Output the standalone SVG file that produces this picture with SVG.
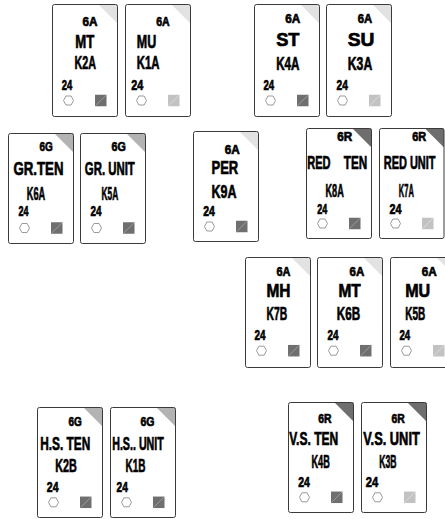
<svg xmlns="http://www.w3.org/2000/svg" xmlns:xlink="http://www.w3.org/1999/xlink" width="445" height="519" viewBox="0 0 445 519">
<style>
.bg{fill:#fff;stroke:none}
.bd{fill:none;stroke:#3a3a3a;stroke-width:1}
.ta{fill:#e2e2e2}
.tg{fill:#b3b3b3}
.tr{fill:#6e6e6e}
text{font-family:"Liberation Sans Narrow","Liberation Sans",Arial,sans-serif;font-weight:bold;fill:#000;stroke:#000;stroke-width:0.65px}
.s{font-size:12.5px}
.m{font-size:18px}
.n{font-size:14px}
</style>
<defs>
<polygon id="hex" points="-5,0 -2.6,-4.5 2.6,-4.5 5,0 2.6,4.5 -2.6,4.5" fill="#fff" stroke="#9a9a9a" stroke-width="1"/>
<g id="sqd"><rect x="0" y="0" width="11.5" height="11.5" fill="#6f6f6f"/><line x1="0.5" y1="11" x2="11" y2="0.5" stroke="#a5a5a5" stroke-width="0.8"/></g>
<g id="sql"><rect x="0" y="0" width="11.5" height="11.5" fill="#c2c2c2"/><line x1="0.5" y1="11" x2="11" y2="0.5" stroke="#e2e2e2" stroke-width="0.8"/></g>
</defs>
<g id="connectors"/>

<g id="card-K2A" transform="translate(52.5,4.5)">
<rect class="bg" width="65" height="112"/><polygon class="ta" points="46,0 65,0 65,19"/><rect class="bd" width="65" height="112" rx="2"/>
<text class="s" x="30" y="21" textLength="15" lengthAdjust="spacingAndGlyphs">6A</text>
<text class="m" x="22.7" y="43.5" textLength="19" lengthAdjust="spacingAndGlyphs">MT</text>
<text class="m" x="22" y="64.5" textLength="21.5" lengthAdjust="spacingAndGlyphs">K2A</text>
<text class="n" x="9.3" y="85" textLength="10.5" lengthAdjust="spacingAndGlyphs">24</text>
<use xlink:href="#hex" x="16" y="96"/><use xlink:href="#sqd" x="42.5" y="90.25"/>
</g>

<g id="card-K1A" transform="translate(125.5,4.5)">
<rect class="bg" width="65" height="112"/><polygon class="ta" points="46,0 65,0 65,19"/><rect class="bd" width="65" height="112" rx="2"/>
<text class="s" x="30.7" y="21" textLength="13.5" lengthAdjust="spacingAndGlyphs">6A</text>
<text class="m" x="11.3" y="43.5" textLength="19.4" lengthAdjust="spacingAndGlyphs">MU</text>
<text class="m" x="11.3" y="64.5" textLength="22.7" lengthAdjust="spacingAndGlyphs">K1A</text>
<text class="n" x="5.7" y="85" textLength="12" lengthAdjust="spacingAndGlyphs">24</text>
<use xlink:href="#hex" x="16" y="96"/><use xlink:href="#sql" x="42.5" y="90.25"/>
</g>

<g id="card-K4A" transform="translate(254.5,4.5)">
<rect class="bg" width="65" height="112"/><polygon class="ta" points="46,0 65,0 65,19"/><rect class="bd" width="65" height="112" rx="2"/>
<text class="s" x="30.7" y="18.5" textLength="15" lengthAdjust="spacingAndGlyphs">6A</text>
<text class="m" x="21.7" y="41.5" textLength="23.3" lengthAdjust="spacingAndGlyphs">ST</text>
<text class="m" x="21.7" y="65" textLength="23.3" lengthAdjust="spacingAndGlyphs">K4A</text>
<text class="n" x="9" y="85" textLength="10.7" lengthAdjust="spacingAndGlyphs">24</text>
<use xlink:href="#hex" x="16" y="96"/><use xlink:href="#sqd" x="42.5" y="90.25"/>
</g>

<g id="card-K3A" transform="translate(326.5,4.5)">
<rect class="bg" width="65" height="112"/><polygon class="ta" points="46,0 65,0 65,19"/><rect class="bd" width="65" height="112" rx="2"/>
<text class="s" x="31.3" y="18.5" textLength="14.4" lengthAdjust="spacingAndGlyphs">6A</text>
<text class="m" x="21.3" y="41.5" textLength="26.7" lengthAdjust="spacingAndGlyphs">SU</text>
<text class="m" x="21.3" y="65" textLength="24.4" lengthAdjust="spacingAndGlyphs">K3A</text>
<text class="n" x="10" y="85" textLength="11.3" lengthAdjust="spacingAndGlyphs">24</text>
<use xlink:href="#hex" x="16" y="96"/><use xlink:href="#sql" x="42.5" y="90.25"/>
</g>

<g id="card-K6A" transform="translate(8.5,133.5)">
<rect class="bg" width="65" height="110"/><polygon class="tg" points="46,0 65,0 65,19"/><rect class="bd" width="65" height="110" rx="2"/>
<text class="s" x="31" y="17.7" textLength="13.3" lengthAdjust="spacingAndGlyphs">6G</text>
<text class="m" x="5" y="41.7" textLength="50" lengthAdjust="spacingAndGlyphs">GR.TEN</text>
<text class="m" x="18.3" y="66.7" textLength="18.4" lengthAdjust="spacingAndGlyphs">K6A</text>
<text class="n" x="10" y="82.4" textLength="10" lengthAdjust="spacingAndGlyphs">24</text>
<use xlink:href="#hex" x="16" y="94.5"/><use xlink:href="#sqd" x="42.5" y="88.75"/>
</g>

<g id="card-K5A" transform="translate(80.5,133.5)">
<rect class="bg" width="65" height="110"/><polygon class="tg" points="46,0 65,0 65,19"/><rect class="bd" width="65" height="110" rx="2"/>
<text class="s" x="31" y="17.7" textLength="14.3" lengthAdjust="spacingAndGlyphs">6G</text>
<text class="m" x="4.3" y="41.7" textLength="50" lengthAdjust="spacingAndGlyphs">GR. UNIT</text>
<text class="m" x="21" y="66.7" textLength="16.7" lengthAdjust="spacingAndGlyphs">K5A</text>
<text class="n" x="10" y="82.4" textLength="11" lengthAdjust="spacingAndGlyphs">24</text>
<use xlink:href="#hex" x="16" y="94.5"/><use xlink:href="#sqd" x="42.5" y="88.75"/>
</g>

<g id="card-K9A" transform="translate(193.5,131.5)">
<rect class="bg" width="65" height="110"/><polygon class="ta" points="46,0 65,0 65,19"/><rect class="bd" width="65" height="110" rx="2"/>
<text class="s" x="31.3" y="22.7" textLength="15" lengthAdjust="spacingAndGlyphs">6A</text>
<text class="m" x="18" y="42.3" textLength="26.7" lengthAdjust="spacingAndGlyphs">PER</text>
<text class="m" x="18" y="66" textLength="25" lengthAdjust="spacingAndGlyphs">K9A</text>
<text class="n" x="9.7" y="84" textLength="11.6" lengthAdjust="spacingAndGlyphs">24</text>
<use xlink:href="#hex" x="16" y="95"/><use xlink:href="#sqd" x="42.5" y="89.25"/>
</g>

<g id="card-K8A" transform="translate(306.5,128.5)">
<rect class="bg" width="65" height="110"/><polygon class="tr" points="46,0 65,0 65,19"/><rect class="bd" width="65" height="110" rx="2"/>
<text class="s" x="30.7" y="12.3" textLength="15" lengthAdjust="spacingAndGlyphs">6R</text>
<text class="m" x="0.7" y="40.7" textLength="23.3" lengthAdjust="spacingAndGlyphs">RED</text>
<text class="m" x="37.3" y="40.7" textLength="23.4" lengthAdjust="spacingAndGlyphs">TEN</text>
<text class="m" x="19" y="68.3" textLength="18.3" lengthAdjust="spacingAndGlyphs">K8A</text>
<text class="n" x="10.7" y="85" textLength="10" lengthAdjust="spacingAndGlyphs">24</text>
<use xlink:href="#hex" x="16" y="95"/><use xlink:href="#sqd" x="42.5" y="89.25"/>
</g>

<g id="card-K7A" transform="translate(379.5,128.5)">
<rect class="bg" width="64.5" height="110"/><polygon class="tr" points="45.5,0 64.5,0 64.5,19"/><rect class="bd" width="64.5" height="110" rx="2"/>
<text class="s" x="32.7" y="12.3" textLength="14" lengthAdjust="spacingAndGlyphs">6R</text>
<text class="m" x="4.3" y="40.7" textLength="51.7" lengthAdjust="spacingAndGlyphs">RED UNIT</text>
<text class="m" x="19.3" y="68.3" textLength="15" lengthAdjust="spacingAndGlyphs">K7A</text>
<text class="n" x="10" y="85" textLength="12" lengthAdjust="spacingAndGlyphs">24</text>
<use xlink:href="#hex" x="16" y="95"/><use xlink:href="#sql" x="42.5" y="89.25"/>
</g>

<g id="card-K7B" transform="translate(245.5,257.5)">
<rect class="bg" width="65" height="110"/><polygon class="ta" points="46,0 65,0 65,19"/><rect class="bd" width="65" height="110" rx="2"/>
<text class="s" x="31" y="18.7" textLength="14" lengthAdjust="spacingAndGlyphs">6A</text>
<text class="m" x="21" y="39.4" textLength="24" lengthAdjust="spacingAndGlyphs">MH</text>
<text class="m" x="21" y="62.7" textLength="20.7" lengthAdjust="spacingAndGlyphs">K7B</text>
<text class="n" x="9" y="82.7" textLength="11" lengthAdjust="spacingAndGlyphs">24</text>
<use xlink:href="#hex" x="16" y="93.2"/><use xlink:href="#sqd" x="42.5" y="87.45"/>
</g>

<g id="card-K6B" transform="translate(317.5,257.5)">
<rect class="bg" width="65" height="110"/><polygon class="ta" points="46,0 65,0 65,19"/><rect class="bd" width="65" height="110" rx="2"/>
<text class="s" x="32" y="18.7" textLength="14.7" lengthAdjust="spacingAndGlyphs">6A</text>
<text class="m" x="21" y="39.4" textLength="22.3" lengthAdjust="spacingAndGlyphs">MT</text>
<text class="m" x="19.3" y="62.7" textLength="23.4" lengthAdjust="spacingAndGlyphs">K6B</text>
<text class="n" x="10" y="82.7" textLength="11" lengthAdjust="spacingAndGlyphs">24</text>
<use xlink:href="#hex" x="16" y="93.2"/><use xlink:href="#sqd" x="42.5" y="87.45"/>
</g>

<g id="card-K5B" transform="translate(390.5,257.5)">
<rect class="bg" width="65" height="110"/><polygon class="ta" points="46,0 65,0 65,19"/><rect class="bd" width="65" height="110" rx="2"/>
<text class="s" x="31.3" y="18.7" textLength="15" lengthAdjust="spacingAndGlyphs">6A</text>
<text class="m" x="14.7" y="39.4" textLength="25" lengthAdjust="spacingAndGlyphs">MU</text>
<text class="m" x="14.7" y="62.7" textLength="20" lengthAdjust="spacingAndGlyphs">K5B</text>
<text class="n" x="9" y="82.7" textLength="10.7" lengthAdjust="spacingAndGlyphs">24</text>
<use xlink:href="#hex" x="16" y="93.2"/><use xlink:href="#sql" x="42.5" y="87.45"/>
</g>

<g id="card-K2B" transform="translate(37.5,407.5)">
<rect class="bg" width="65" height="110"/><polygon class="tg" points="46,0 65,0 65,19"/><rect class="bd" width="65" height="110" rx="2"/>
<text class="s" x="31" y="18.3" textLength="13.3" lengthAdjust="spacingAndGlyphs">6G</text>
<text class="m" x="2.7" y="42.3" textLength="50" lengthAdjust="spacingAndGlyphs">H.S. TEN</text>
<text class="m" x="17.7" y="64" textLength="21.6" lengthAdjust="spacingAndGlyphs">K2B</text>
<text class="n" x="9.3" y="84" textLength="11.7" lengthAdjust="spacingAndGlyphs">24</text>
<use xlink:href="#hex" x="16" y="94.8"/><use xlink:href="#sqd" x="42.5" y="89.05"/>
</g>

<g id="card-K1B" transform="translate(110.5,407.5)">
<rect class="bg" width="65" height="110"/><polygon class="tg" points="46,0 65,0 65,19"/><rect class="bd" width="65" height="110" rx="2"/>
<text class="s" x="30" y="18.3" textLength="14" lengthAdjust="spacingAndGlyphs">6G</text>
<text class="m" x="1.7" y="42.3" textLength="51.6" lengthAdjust="spacingAndGlyphs">H.S.. UNIT</text>
<text class="m" x="15" y="64" textLength="20" lengthAdjust="spacingAndGlyphs">K1B</text>
<text class="n" x="6" y="84" textLength="11.3" lengthAdjust="spacingAndGlyphs">24</text>
<use xlink:href="#hex" x="16" y="94.8"/><use xlink:href="#sqd" x="42.5" y="89.05"/>
</g>

<g id="card-K4B" transform="translate(288.5,402.5)">
<rect class="bg" width="65" height="110"/><polygon class="tr" points="46,0 65,0 65,19"/><rect class="bd" width="65" height="110" rx="2"/>
<text class="s" x="29.7" y="20.6" textLength="13.3" lengthAdjust="spacingAndGlyphs">6R</text>
<text class="m" x="0.7" y="42.3" textLength="49" lengthAdjust="spacingAndGlyphs">V.S. TEN</text>
<text class="m" x="23" y="65.6" textLength="18.3" lengthAdjust="spacingAndGlyphs">K4B</text>
<text class="n" x="9.7" y="84" textLength="11.6" lengthAdjust="spacingAndGlyphs">24</text>
<use xlink:href="#hex" x="16" y="94.8"/><use xlink:href="#sqd" x="42.5" y="89.05"/>
</g>

<g id="card-K3B" transform="translate(361.5,402.5)">
<rect class="bg" width="65" height="110"/><polygon class="tr" points="46,0 65,0 65,19"/><rect class="bd" width="65" height="110" rx="2"/>
<text class="s" x="30" y="20.6" textLength="13.3" lengthAdjust="spacingAndGlyphs">6R</text>
<text class="m" x="1.7" y="42.3" textLength="56.6" lengthAdjust="spacingAndGlyphs">V.S. UNIT</text>
<text class="m" x="17.7" y="65.6" textLength="17.3" lengthAdjust="spacingAndGlyphs">K3B</text>
<text class="n" x="4.3" y="84" textLength="12.4" lengthAdjust="spacingAndGlyphs">24</text>
<use xlink:href="#hex" x="16" y="94.8"/><use xlink:href="#sql" x="42.5" y="89.05"/>
</g>
</svg>
